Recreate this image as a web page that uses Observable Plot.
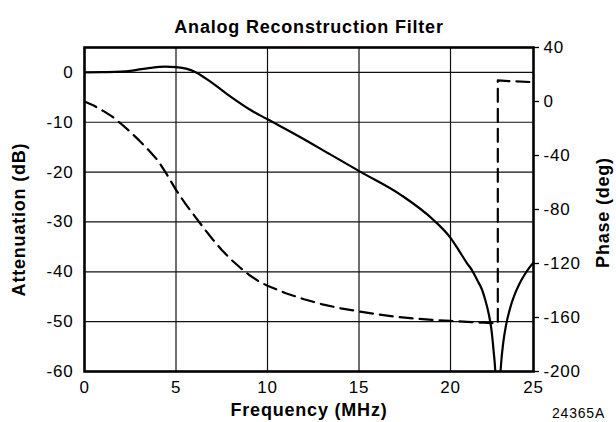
<!DOCTYPE html>
<html>
<head>
<meta charset="utf-8">
<script src="https://cdn.jsdelivr.net/npm/d3@7"></script>
<script src="https://cdn.jsdelivr.net/npm/@observablehq/plot@0.6"></script>
<style>
  body { margin: 0; background: #fff; }
  #chart svg { display: block; }
</style>
</head>
<body>
<div id="chart"></div>
<script>
// Magnitude response (attenuation, dB) against frequency (MHz)
const attFreq = [0, 1, 2, 2.5, 3, 3.6, 4.4, 5, 5.6, 6.1, 6.9, 8, 9.1, 10, 11.8, 13.45, 15.06, 17.3, 19.1, 20, 20.5, 21.0, 21.3, 21.6, 21.9, 22.1, 22.3, 22.45, 22.6, 22.7, 22.78, 22.84, 22.94, 23.04, 23.19, 23.34, 23.59, 23.84, 24.14, 24.44, 24.74, 25];
const attDb   = [0, 0.05, 0.15, 0.3, 0.6, 0.9, 1.15, 1.05, 0.7, 0, -1.9, -4.9, -7.6, -9.4, -13.0, -16.5, -19.9, -24.6, -29.7, -33.2, -35.7, -38.3, -39.7, -41.6, -43.6, -45.7, -48.4, -51.2, -56.0, -60.1, -67.5, -80, -64.8, -58.8, -53.9, -50.8, -47.3, -44.8, -42.5, -40.7, -39.2, -38.1];

// Phase response (degrees); the 180° step marks the transmission zero
const phaseFreq = [0, 0.5, 1, 1.5, 2, 2.5, 3, 3.5, 4, 4.5, 5, 5.5, 6, 6.5, 7, 7.5, 8, 8.5, 9, 9.5, 10, 11, 12, 13, 14, 15, 16, 17, 18, 19, 20, 21, 22, 22.85, 22.85, 23.5, 25];
const phaseDeg  = [0, -3, -6.8, -11, -16.5, -22.5, -29, -36, -43.5, -54, -65.5, -75.5, -84.5, -93.5, -102, -110, -117, -123, -128.5, -133, -136.5, -142, -146.5, -150.3, -153.2, -155.5, -157.6, -159.4, -160.7, -161.7, -162.5, -163.3, -163.9, -164.4, 15.6, 15.1, 14.3];

// Tick values
const freqTicks  = [0, 5, 10, 15, 20, 25];
const freqGrid   = [5, 10, 15, 20];
const dbTicks    = [0, -10, -20, -30, -40, -50, -60];
const dbGrid     = [0, -10, -20, -30, -40, -50];
const phaseTicks = [40, 0, -40, -80, -120, -160, -200];

const attenuation = attFreq.map((f, i) => ({f, db: attDb[i]}));
const phase = phaseFreq.map((f, i) => ({f, deg: phaseDeg[i]}));

// The last 5 MHz division of the frequency axis is drawn slightly narrower
const lastDivision = 0.907;
const warp = f => (f <= 20 ? f : 20 + (f - 20) * lastDivision);

// Secondary (phase) axis expressed in the primary dB scale
const phaseToDb = d3.scaleLinear([-200, 40], [-60, 5]);

const font = "'Liberation Sans', Arial, Helvetica, sans-serif";
const fmt = d => String(d);

const chart = Plot.plot({
  width: 616,
  height: 422,
  marginTop: 47,
  marginBottom: 51,
  marginLeft: 84,
  marginRight: 83,
  style: {fontFamily: font, fontSize: "17px", color: "#000", background: "#fff", letterSpacing: "0.8px"},
  x: {domain: [0, warp(25)], transform: warp},
  y: {domain: [-60, 5]},
  marks: [
    Plot.gridX(freqGrid, {stroke: "#111", strokeOpacity: 1, strokeWidth: 1.2}),
    Plot.gridY(dbGrid, {stroke: "#111", strokeOpacity: 1, strokeWidth: 1.2}),
    Plot.line(attenuation, {x: "f", y: "db", stroke: "#000", strokeWidth: 2.2, curve: "monotone-x", clip: true}),
    Plot.line(phase, {x: "f", y: d => phaseToDb(d.deg), stroke: "#000", strokeWidth: 2.2, strokeDasharray: "13,7", clip: true}),
    Plot.frame({stroke: "#000", strokeWidth: 2.6}),
    Plot.axisX(freqTicks, {anchor: "bottom", tickSize: 0, tickPadding: 9, tickFormat: fmt, label: null}),
    Plot.axisY(dbTicks, {anchor: "left", tickSize: 0, tickPadding: 11, tickFormat: fmt, label: null}),
    Plot.axisY(phaseTicks, {anchor: "right", y: phaseToDb, tickSize: 5, tickPadding: 5, strokeWidth: 1.3, tickFormat: fmt, label: null}),
    Plot.text(["Analog Reconstruction Filter"], {frameAnchor: "top", dy: -27, fontSize: 18, fontWeight: "bold", letterSpacing: "0.9px"}),
    Plot.text(["Frequency (MHz)"], {frameAnchor: "bottom", dy: 44, fontSize: 18, fontWeight: "bold", letterSpacing: "1px"}),
    Plot.text(["Attenuation (dB)"], {frameAnchor: "left", textAnchor: "middle", dx: -65, dy: 10, rotate: -90, fontSize: 18, fontWeight: "bold", letterSpacing: "1.4px"}),
    Plot.text(["Phase (deg)"], {frameAnchor: "right", textAnchor: "middle", dx: 70, dy: 3, rotate: -90, fontSize: 18, fontWeight: "bold", letterSpacing: "1.8px"}),
    Plot.text(["24365A"], {frameAnchor: "bottom-right", textAnchor: "middle", dx: 45, dy: 46, fontSize: 14, letterSpacing: "0.3px"})
  ]
});

document.getElementById("chart").appendChild(chart);
</script>
</body>
</html>
